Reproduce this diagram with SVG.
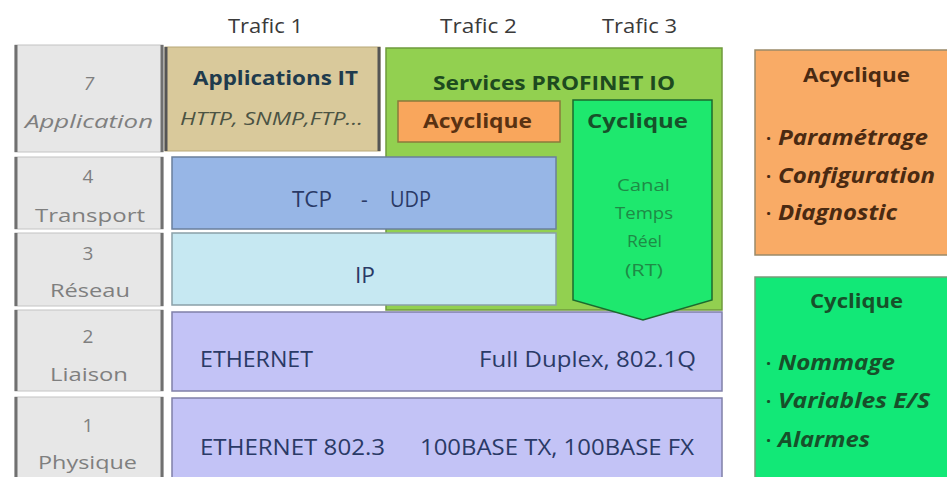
<svg xmlns="http://www.w3.org/2000/svg" width="947" height="477" viewBox="0 0 947 477">
<style>
text{font-family:"Open Sans",Lato,"Liberation Sans",sans-serif}
.trafic{font-size:20px;fill:#3a3a3a}
.osi{fill:#e7e7e7;stroke:#c4c4c4;stroke-width:1}
.osiEdge{stroke:#707070;stroke-width:3}
.osiT{font-size:19px;fill:#7f7f7f}
.num{text-anchor:middle}
.it{font-style:italic}
.b{font-weight:bold}
.lay{font-size:21px;fill:#2a3a66}
.rt{font-size:17px;fill:#1f8a46}
.bul{font-size:21px;font-style:italic;font-weight:bold}
.dot{font-size:18px;font-weight:bold}
</style>
<rect width="947" height="477" fill="#ffffff"/>
<g id="trafic-labels">
<text class="trafic" x="228" y="33" textLength="75" lengthAdjust="spacingAndGlyphs">Trafic 1</text>
<text class="trafic" x="440" y="33" textLength="77" lengthAdjust="spacingAndGlyphs">Trafic 2</text>
<text class="trafic" x="602" y="33" textLength="75" lengthAdjust="spacingAndGlyphs">Trafic 3</text>
</g>
<g id="osi-7">
<rect class="osi" x="15" y="45" width="148" height="107"/>
<line class="osiEdge" x1="16" y1="45" x2="16" y2="152"/><line class="osiEdge" x1="162" y1="45" x2="162" y2="152"/>
<text class="osiT it num" x="89" y="90">7</text>
<text class="osiT it" x="25" y="128" textLength="128" lengthAdjust="spacingAndGlyphs">Application</text>
</g>
<g id="osi-4">
<rect class="osi" x="15" y="157" width="148" height="72"/>
<line class="osiEdge" x1="16" y1="157" x2="16" y2="229"/><line class="osiEdge" x1="162" y1="157" x2="162" y2="229"/>
<text class="osiT num" x="88" y="183">4</text>
<text class="osiT" x="35" y="222" textLength="110" lengthAdjust="spacingAndGlyphs">Transport</text>
</g>
<g id="osi-3">
<rect class="osi" x="15" y="233" width="148" height="73"/>
<line class="osiEdge" x1="16" y1="233" x2="16" y2="306"/><line class="osiEdge" x1="162" y1="233" x2="162" y2="306"/>
<text class="osiT num" x="88" y="260">3</text>
<text class="osiT" x="50" y="297" textLength="80" lengthAdjust="spacingAndGlyphs">Réseau</text>
</g>
<g id="osi-2">
<rect class="osi" x="15" y="310" width="148" height="81"/>
<line class="osiEdge" x1="16" y1="310" x2="16" y2="391"/><line class="osiEdge" x1="162" y1="310" x2="162" y2="391"/>
<text class="osiT num" x="88" y="343">2</text>
<text class="osiT" x="50" y="381" textLength="78" lengthAdjust="spacingAndGlyphs">Liaison</text>
</g>
<g id="osi-1">
<rect class="osi" x="15" y="397" width="148" height="82"/>
<line class="osiEdge" x1="16" y1="397" x2="16" y2="479"/><line class="osiEdge" x1="162" y1="397" x2="162" y2="479"/>
<text class="osiT num" x="88" y="432">1</text>
<text class="osiT" x="38" y="469" textLength="99" lengthAdjust="spacingAndGlyphs">Physique</text>
</g>
<g id="applications-it">
<rect x="165" y="47" width="215" height="104" fill="#d9c99b" stroke="#b8a878"/>
<line x1="166" y1="47" x2="166" y2="151" stroke="#555" stroke-width="3"/>
<line x1="379" y1="47" x2="379" y2="151" stroke="#555" stroke-width="3"/>
<text class="b" x="193" y="85" font-size="20" fill="#1f3b4d" textLength="165" lengthAdjust="spacingAndGlyphs">Applications IT</text>
<text class="it" x="180" y="125" font-size="18" fill="#4b5343" textLength="183" lengthAdjust="spacingAndGlyphs">HTTP, SNMP,FTP...</text>
</g>
<g id="profinet-io">
<rect x="386" y="48" width="336" height="262" fill="#92d050" stroke="#6f9a3c" stroke-width="1.5"/>
<text class="b" x="433" y="90" font-size="20" fill="#1d4a1f" textLength="242" lengthAdjust="spacingAndGlyphs">Services PROFINET IO</text>
</g>
<g id="acyclique-inner">
<rect x="398" y="101" width="162" height="41" fill="#f9a65c" stroke="#8a7a3a" stroke-width="1.5"/>
<text class="b" x="423" y="128" font-size="20" fill="#5a3212" textLength="109" lengthAdjust="spacingAndGlyphs">Acyclique</text>
</g>
<g id="tcp-udp">
<rect x="172" y="157" width="384" height="72" fill="#97b6e6" stroke="#6a7f9c" stroke-width="1.5"/>
<text class="lay" x="292" y="207" textLength="40" lengthAdjust="spacingAndGlyphs">TCP</text>
<text class="lay" x="361" y="207">-</text>
<text class="lay" x="390" y="207" textLength="41" lengthAdjust="spacingAndGlyphs">UDP</text>
</g>
<g id="ip">
<rect x="172" y="233" width="384" height="72" fill="#c6e8f2" stroke="#8aa0a8" stroke-width="1.5"/>
<text class="lay" x="355" y="283" textLength="20" lengthAdjust="spacingAndGlyphs">IP</text>
</g>
<g id="ethernet">
<rect x="172" y="312" width="550" height="79" fill="#c3c3f6" stroke="#8080a8" stroke-width="1.5"/>
<text class="lay" x="200" y="367" textLength="113" lengthAdjust="spacingAndGlyphs">ETHERNET</text>
<text class="lay" x="479" y="367" textLength="217" lengthAdjust="spacingAndGlyphs">Full Duplex, 802.1Q</text>
</g>
<g id="ethernet-phy">
<rect x="172" y="398" width="550" height="81" fill="#c3c3f6" stroke="#8080a8" stroke-width="1.5"/>
<text class="lay" x="200" y="455" textLength="185" lengthAdjust="spacingAndGlyphs">ETHERNET 802.3</text>
<text class="lay" x="420" y="455" textLength="274" lengthAdjust="spacingAndGlyphs">100BASE TX, 100BASE FX</text>
</g>
<g id="cyclique-arrow">
<path d="M573,100 H712 V300 L643,320 L573,300 Z" fill="#1ee86e" stroke="#1c6a2e" stroke-width="1.5"/>
<text class="b" x="587" y="128" font-size="20" fill="#17502a" textLength="101" lengthAdjust="spacingAndGlyphs">Cyclique</text>
<text class="rt" x="617" y="191" textLength="53" lengthAdjust="spacingAndGlyphs">Canal</text>
<text class="rt" x="615" y="219" textLength="58" lengthAdjust="spacingAndGlyphs">Temps</text>
<text class="rt" x="627" y="247" textLength="35" lengthAdjust="spacingAndGlyphs">Réel</text>
<text class="rt" x="625" y="276" textLength="38" lengthAdjust="spacingAndGlyphs">(RT)</text>
</g>
<g id="legend-acyclique">
<rect x="755" y="50" width="195" height="205" fill="#f9ab66" stroke="#9a8a6a" stroke-width="1.5"/>
<text class="b" x="803" y="82" font-size="20" fill="#4a2a12" textLength="107" lengthAdjust="spacingAndGlyphs">Acyclique</text>
<g fill="#4a2a12">
<text class="dot" x="766" y="145">·</text>
<text class="bul" x="778" y="145" textLength="150" lengthAdjust="spacingAndGlyphs">Paramétrage</text>
<text class="dot" x="766" y="183">·</text>
<text class="bul" x="778" y="183" textLength="157" lengthAdjust="spacingAndGlyphs">Configuration</text>
<text class="dot" x="766" y="220">·</text>
<text class="bul" x="778" y="220" textLength="119" lengthAdjust="spacingAndGlyphs">Diagnostic</text>
</g>
</g>
<g id="legend-cyclique">
<rect x="755" y="277" width="195" height="203" fill="#12e877" stroke="#7a9a7a" stroke-width="1.5"/>
<text class="b" x="810" y="308" font-size="20" fill="#17502a" textLength="93" lengthAdjust="spacingAndGlyphs">Cyclique</text>
<g fill="#17502a">
<text class="dot" x="766" y="370">·</text>
<text class="bul" x="778" y="370" textLength="117" lengthAdjust="spacingAndGlyphs">Nommage</text>
<text class="dot" x="766" y="408">·</text>
<text class="bul" x="778" y="408" textLength="152" lengthAdjust="spacingAndGlyphs">Variables E/S</text>
<text class="dot" x="766" y="447">·</text>
<text class="bul" x="778" y="447" textLength="92" lengthAdjust="spacingAndGlyphs">Alarmes</text>
</g>
</g>
</svg>
